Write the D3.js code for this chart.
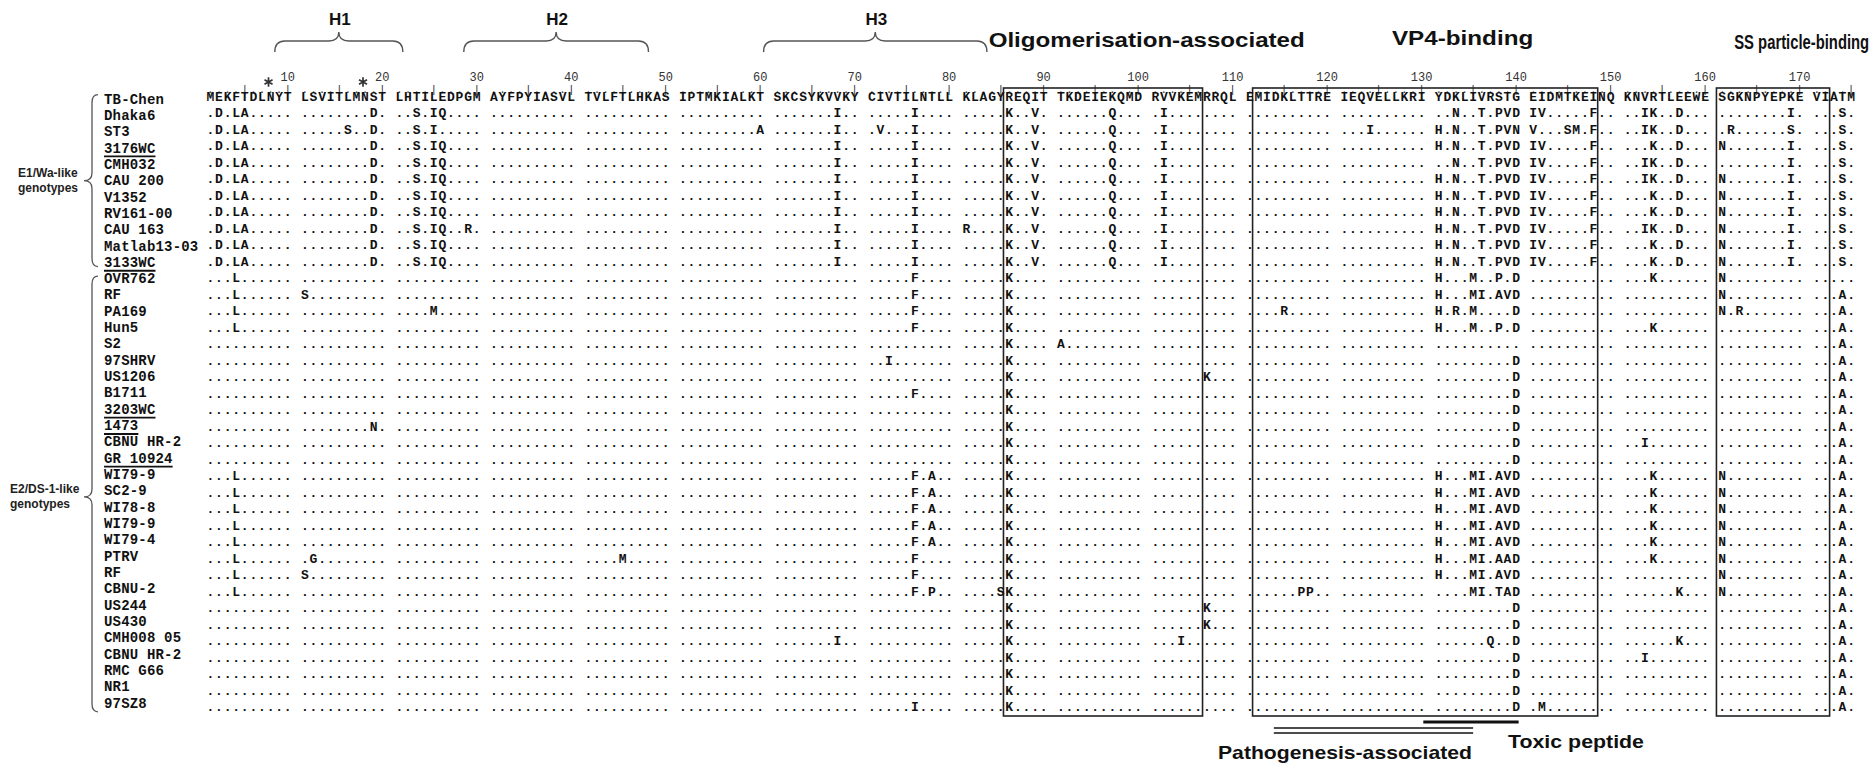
<!DOCTYPE html>
<html>
<head>
<meta charset="utf-8">
<script src="https://cdn.jsdelivr.net/npm/d3@7"></script>
<style>
  body { margin: 0; background: #fff; }
  .seq { font-family: "Liberation Mono", monospace; font-weight: bold; font-size: 13px; fill: #111; }
  .name { font-family: "Liberation Mono", monospace; font-weight: bold; font-size: 14px; letter-spacing: 0.18px; fill: #111; }
  .ruler { font-family: "Liberation Mono", monospace; font-size: 11px; fill: #333; }
  .num { font-family: "Liberation Mono", monospace; font-size: 12px; fill: #333; }
  .label { font-family: "Liberation Sans", Arial, sans-serif; font-weight: bold; fill: #111; }
</style>
</head>
<body>
<div class="chart"></div>
<script>
var svgWidth = 1874;
var svgHeight = 767;

// residue numbers printed above the ruler
var tickNumbers = [10, 20, 30, 40, 50, 60, 70, 80, 90, 100, 110, 120, 130, 140, 150, 160, 170];

// N-glycosylation sites (asterisks)
var glycoSites = [8, 18];

// helices (residue spans)
var helixLabels = ["H1", "H2", "H3"];
var helixFrom = [9, 29, 60.9];
var helixTo = [21.9, 48.5, 83.9];

// boxed regions
var regionNames = ["Oligomerisation-associated", "VP4-binding", "SS particle-binding"];
var regionFrom = [86, 112, 161];
var regionTo = [106, 148, 172];

// peptides marked under the alignment
var pathoFrom = 114.3, pathoTo = 135.5;
var toxicFrom = 130.7, toxicTo = 140.8;

var strainNames = ["TB-Chen", "Dhaka6", "ST3", "3176WC", "CMH032", "CAU 200", "V1352", "RV161-00", "CAU 163",
  "Matlab13-03", "3133WC", "OVR762", "RF", "PA169", "Hun5", "S2", "97SHRV", "US1206", "B1711", "3203WC",
  "1473", "CBNU HR-2", "GR 10924", "WI79-9", "SC2-9", "WI78-8", "WI79-9", "WI79-4", "PTRV", "RF", "CBNU-2",
  "US244", "US430", "CMH008 05", "CBNU HR-2", "RMC G66", "NR1", "97SZ8"];

var underlinedRows = [3, 10, 19, 20, 22];

var groupLabels = [["E1/Wa-like", "genotypes"], ["E2/DS-1-like", "genotypes"]];
var groupFirst = [0, 11];
var groupLast = [10, 37];

// aligned sequences, blocks of ten as printed
var alignment = [
  "MEKFTDLNYT LSVITLMNST LHTILEDPGM AYFPYIASVL TVLFTLHKAS IPTMKIALKT SKCSYKVVKY CIVTILNTLL KLAGYREQIT TKDEIEKQMD RVVKEMRRQL EMIDKLTTRE IEQVELLKRI YDKLIVRSTG EIDMTKEINQ KNVRTLEEWE SGKNPYEPKE VIATM",
  ".D.LA..... ........D. ..S.IQ.... .......... .......... .......... .......I.. .....I.... .....K..V. ......Q... .I........ .......... .......... ..N..T.PVD IV.....F.. ..IK..D... ........I. ...S.",
  ".D.LA..... .....S..D. ..S.I..... .......... .......... .........A .......I.. .V...I.... .....K..V. ......Q... .I........ .......... ...I...... H.N..T.PVN V...SM.F.. ..IK..D... .R......S. ...S.",
  ".D.LA..... ........D. ..S.IQ.... .......... .......... .......... .......I.. .....I.... .....K..V. ......Q... .I........ .......... .......... H.N..T.PVD IV.....F.. ...K..D... N.......I. ...S.",
  ".D.LA..... ........D. ..S.IQ.... .......... .......... .......... .......I.. .....I.... .....K..V. ......Q... .I........ .......... .......... ..N..T.PVD IV.....F.. ..IK..D... ........I. ...S.",
  ".D.LA..... ........D. ..S.IQ.... .......... .......... .......... .......I.. .....I.... .....K..V. ......Q... .I........ .......... .......... H.N..T.PVD IV.....F.. ..IK..D... N.......I. ...S.",
  ".D.LA..... ........D. ..S.IQ.... .......... .......... .......... .......I.. .....I.... .....K..V. ......Q... .I........ .......... .......... H.N..T.PVD IV.....F.. ...K..D... N.......I. ...S.",
  ".D.LA..... ........D. ..S.IQ.... .......... .......... .......... .......I.. .....I.... .....K..V. ......Q... .I........ .......... .......... H.N..T.PVD IV.....F.. ...K..D... N.......I. ...S.",
  ".D.LA..... ........D. ..S.IQ..R. .......... .......... .......... .......I.. .....I.... R....K..V. ......Q... .I........ .......... .......... H.N..T.PVD IV.....F.. ..IK..D... N.......I. ...S.",
  ".D.LA..... ........D. ..S.IQ.... .......... .......... .......... .......I.. .....I.... .....K..V. ......Q... .I........ .......... .......... H.N..T.PVD IV.....F.. ...K..D... N.......I. ...S.",
  ".D.LA..... ........D. ..S.IQ.... .......... .......... .......... .......I.. .....I.... .....K..V. ......Q... .I........ .......... .......... H.N..T.PVD IV.....F.. ...K..D... N.......I. ...S.",
  "...L...... .......... .......... .......... .......... .......... .......... .....F.... .....K.... .......... .......... .......... .......... H...M..P.D .......... ...K...... N......... .....",
  "...L...... S......... .......... .......... .......... .......... .......... .....F.... .....K.... .......... .......... .......... .......... H...MI.AVD .......... .......... N......... ...A.",
  "...L...... .......... ....M..... .......... .......... .......... .......... .....F.... .....K.... .......... .......... ....R..... .......... H.R.M....D .......... .......... N.R....... ...A.",
  "...L...... .......... .......... .......... .......... .......... .......... .....F.... .....K.... .......... .......... .......... .......... H...M..P.D .......... ...K...... .......... ...A.",
  ".......... .......... .......... .......... .......... .......... .......... .......... .....K.... A......... .......... .......... .......... .......... .......... .......... .......... ...A.",
  ".......... .......... .......... .......... .......... .......... .......... ..I....... .....K.... .......... .......... .......... .......... .........D .......... .......... .......... ...A.",
  ".......... .......... .......... .......... .......... .......... .......... .......... .....K.... .......... ......K... .......... .......... .........D .......... .......... .......... ...A.",
  ".......... .......... .......... .......... .......... .......... .......... .....F.... .....K.... .......... .......... .......... .......... .........D .......... .......... .......... ...A.",
  ".......... .......... .......... .......... .......... .......... .......... .......... .....K.... .......... .......... .......... .......... .........D .......... .......... .......... ...A.",
  ".......... ........N. .......... .......... .......... .......... .......... .......... .....K.... .......... .......... .......... .......... .........D .......... .......... .......... ...A.",
  ".......... .......... .......... .......... .......... .......... .......... .......... .....K.... .......... .......... .......... .......... .........D .......... ..I....... .......... ...A.",
  ".......... .......... .......... .......... .......... .......... .......... .......... .....K.... .......... .......... .......... .......... .........D .......... .......... .......... ...A.",
  "...L...... .......... .......... .......... .......... .......... .......... .....F.A.. .....K.... .......... .......... .......... .......... H...MI.AVD .......... ...K...... N......... ...A.",
  "...L...... .......... .......... .......... .......... .......... .......... .....F.A.. .....K.... .......... .......... .......... .......... H...MI.AVD .......... ...K...... N......... ...A.",
  "...L...... .......... .......... .......... .......... .......... .......... .....F.A.. .....K.... .......... .......... .......... .......... H...MI.AVD .......... ...K...... N......... ...A.",
  "...L...... .......... .......... .......... .......... .......... .......... .....F.A.. .....K.... .......... .......... .......... .......... H...MI.AVD .......... ...K...... N......... ...A.",
  "...L...... .......... .......... .......... .......... .......... .......... .....F.A.. .....K.... .......... .......... .......... .......... H...MI.AVD .......... ...K...... N......... ...A.",
  "...L...... .G........ .......... .......... ....M..... .......... .......... .....F.... .....K.... .......... .......... .......... .......... H...MI.AAD .......... ...K...... N......... ...A.",
  "...L...... S......... .......... .......... .......... .......... .......... .....F.... .....K.... .......... .......... .......... .......... H...MI.AVD .......... .......... N......... ...A.",
  "...L...... .......... .......... .......... .......... .......... .......... .....F.P.. ....SK.... .......... .......... ......PP.. .......... ....MI.TAD .......... ......K... N......... ...A.",
  ".......... .......... .......... .......... .......... .......... .......... .......... .....K.... .......... ......K... .......... .......... .........D .......... .......... .......... ...A.",
  ".......... .......... .......... .......... .......... .......... .......... .......... .....K.... .......... ......K... .......... .......... .........D .......... .......... .......... ...A.",
  ".......... .......... .......... .......... .......... .......... .......I.. .......... .....K.... .......... ...I...... .......... .......... ......Q..D .......... ......K... .......... ...A.",
  ".......... .......... .......... .......... .......... .......... .......... .......... .....K.... .......... .......... .......... .......... .........D .......... ..I....... .......... ...A.",
  ".......... .......... .......... .......... .......... .......... .......... .......... .....K.... .......... .......... .......... .......... .........D .......... .......... .......... ...A.",
  ".......... .......... .......... .......... .......... .......... .......... .......... .....K.... .......... .......... .......... .......... .........D .......... .......... .......... ...A.",
  ".......... .......... .......... .......... .......... .......... .......... .....I.... .....K.... .......... .......... .......... .......... .........D .M........ .......... .......... ...A."
];

// ---------- layout ----------
var cw = 8.59;          // width of one residue column
var seqLeft = 206.1;
var nResidues = 175;
var nSlots = nResidues + Math.floor((nResidues - 1) / 10) + 1;

var svg = d3.select(".chart")
  .append("svg")
  .attr("width", svgWidth)
  .attr("height", svgHeight)
  .style("background", "#fff");

// slot scale (a blank slot after every block of ten)
var xSlot = d3.scaleLinear()
  .domain([0, nSlots])
  .range([seqLeft, seqLeft + nSlots * cw]);

function slotOf(r) { return (r - 1) + Math.floor((r - 1) / 10); }
function xAt(p) { var r = Math.floor(p); return xSlot(slotOf(r) + (p - r)); }
function xMid(r) { return xAt(r + 0.5); }

var rows = alignment.map(function(s, i) {
  return { name: strainNames[i], chars: s.replace(/ /g, "").split("") };
});

var yRow = d3.scalePoint()
  .domain(d3.range(rows.length))
  .range([96.7, 706.8]);

var yName = d3.scaleLinear()
  .domain([0, rows.length - 1])
  .range([99, 703]);

var residues = d3.range(1, nResidues + 1);

// ruler and numbers
svg.append("text")
  .attr("class", "ruler")
  .attr("x", residues.map(function(r) { return (xAt(r) + 1).toFixed(2); }).join(" "))
  .attr("y", 93)
  .text(residues.map(function(r) { return r % 5 === 0 ? "|" : "."; }).join(""));

svg.selectAll("text.num")
  .data(tickNumbers)
  .enter()
  .append("text")
  .attr("class", "num")
  .attr("x", function(d) { return xMid(d); })
  .attr("y", 81)
  .attr("text-anchor", "middle")
  .text(function(d) { return d; });

// asterisks
svg.selectAll("path.glyco")
  .data(glycoSites)
  .enter()
  .append("path")
  .attr("class", "glyco")
  .attr("transform", function(d) { return "translate(" + (xMid(d) - 2) + ",82)"; })
  .attr("d", d3.symbol(d3.symbolAsterisk, 60))
  .attr("fill", "none")
  .attr("stroke", "#333")
  .attr("stroke-width", 1.7);

// helix braces
function hBrace(x1, x2, yTip, yFlat, yPeak) {
  var cx = (x1 + x2) / 2, r = 10;
  return "M" + x1 + "," + yTip +
    " Q" + x1 + "," + yFlat + " " + (x1 + r) + "," + yFlat +
    " L" + (cx - r) + "," + yFlat +
    " Q" + cx + "," + yFlat + " " + cx + "," + yPeak +
    " Q" + cx + "," + yFlat + " " + (cx + r) + "," + yFlat +
    " L" + (x2 - r) + "," + yFlat +
    " Q" + x2 + "," + yFlat + " " + x2 + "," + yTip;
}

helixLabels.forEach(function(lab, i) {
  var x1 = xAt(helixFrom[i]), x2 = xAt(helixTo[i]);
  svg.append("path")
    .attr("d", hBrace(x1, x2, 52, 41, 32))
    .attr("fill", "none")
    .attr("stroke", "#555")
    .attr("stroke-width", 1.4);
  svg.append("text")
    .attr("class", "label")
    .attr("x", (x1 + x2) / 2 + 1)
    .attr("y", 25)
    .attr("text-anchor", "middle")
    .style("font-size", "17px")
    .text(lab);
});

// region boxes
regionNames.forEach(function(name, i) {
  var x1 = xAt(regionFrom[i]) - 1.5;
  var x2 = xAt(regionTo[i] + 1);
  svg.append("rect")
    .attr("x", x1)
    .attr("y", 88)
    .attr("width", x2 - x1)
    .attr("height", 716 - 88)
    .attr("fill", "none")
    .attr("stroke", "#222")
    .attr("stroke-width", 1.6);
});

// region titles
var regionTitleFrom = [84.1, 127.05, 162.9];
var regionTitleTo = [117.9, 141.5, 177.6];
var regionTitleY = [47, 45, 49];
var regionTitleSize = [19.5, 19.5, 21];
regionNames.forEach(function(name, i) {
  svg.append("text")
    .attr("class", "label")
    .attr("x", xAt(regionTitleFrom[i]))
    .attr("y", regionTitleY[i])
    .attr("textLength", xAt(regionTitleTo[i]) - xAt(regionTitleFrom[i]))
    .attr("lengthAdjust", "spacingAndGlyphs")
    .style("font-size", regionTitleSize[i] + "px")
    .text(name);
});

// sequences
svg.selectAll("text.seq")
  .data(rows)
  .enter()
  .append("text")
  .attr("class", "seq")
  .attr("x", function(d) { return d.chars.map(function(c, k) { return (xAt(k + 1) + 0.4).toFixed(2); }).join(" "); })
  .attr("y", function(d, i) { return yRow(i) + 4.3; })
  .text(function(d) { return d.chars.join(""); });

// strain names
var nameText = svg.selectAll("text.name")
  .data(rows)
  .enter()
  .append("text")
  .attr("class", "name")
  .attr("x", 104)
  .attr("y", function(d, i) { return yName(i) + 4.6; })
  .text(function(d) { return d.name; });

nameText.each(function(d, i) {
  if (underlinedRows.indexOf(i) < 0) return;
  var w = this.getComputedTextLength();
  svg.append("line")
    .attr("x1", 104)
    .attr("x2", 104 + w)
    .attr("y1", yName(i) + 8.5)
    .attr("y2", yName(i) + 8.5)
    .attr("stroke", "#111")
    .attr("stroke-width", 1.8);
});

// genotype braces
function vBrace(xTip, xLine, xPoint, yTop, yBot, yMid) {
  var r = 8;
  return "M" + xTip + "," + yTop +
    " Q" + xLine + "," + yTop + " " + xLine + "," + (yTop + r) +
    " L" + xLine + "," + (yMid - r) +
    " Q" + xLine + "," + yMid + " " + xPoint + "," + yMid +
    " Q" + xLine + "," + yMid + " " + xLine + "," + (yMid + r) +
    " L" + xLine + "," + (yBot - r) +
    " Q" + xLine + "," + yBot + " " + xTip + "," + yBot;
}

var groupLabelX = [18, 10];
groupLabels.forEach(function(lines, g) {
  var yTop = yRow(groupFirst[g]) - 2;
  var yBot = yRow(groupLast[g]) + 5;
  var yMid = (yTop + yBot) / 2 + (g === 1 ? 3 : 0);
  svg.append("path")
    .attr("d", vBrace(98, 92, 84, yTop, yBot, yMid))
    .attr("fill", "none")
    .attr("stroke", "#555")
    .attr("stroke-width", 1.3);
  lines.forEach(function(t, k) {
    svg.append("text")
      .attr("class", "label")
      .attr("x", groupLabelX[g])
      .attr("y", yMid - 4 + k * 15)
      .style("font-size", "12px")
      .style("fill", "#222")
      .text(t);
  });
});

// peptide lines under the alignment
[728, 733].forEach(function(yy) {
  svg.append("line")
    .attr("x1", xAt(pathoFrom)).attr("x2", xAt(pathoTo))
    .attr("y1", yy).attr("y2", yy)
    .attr("stroke", "#111").attr("stroke-width", 1.6);
});
svg.append("line")
  .attr("x1", xAt(toxicFrom)).attr("x2", xAt(toxicTo))
  .attr("y1", 722).attr("y2", 722)
  .attr("stroke", "#111").attr("stroke-width", 3.2);

svg.append("text")
  .attr("class", "label")
  .attr("x", 1218)
  .attr("y", 759)
  .attr("textLength", 254)
  .attr("lengthAdjust", "spacingAndGlyphs")
  .style("font-size", "19px")
  .text("Pathogenesis-associated");

svg.append("text")
  .attr("class", "label")
  .attr("x", 1508)
  .attr("y", 748)
  .attr("textLength", 136)
  .attr("lengthAdjust", "spacingAndGlyphs")
  .style("font-size", "19px")
  .text("Toxic peptide");
</script>
</body>
</html>
